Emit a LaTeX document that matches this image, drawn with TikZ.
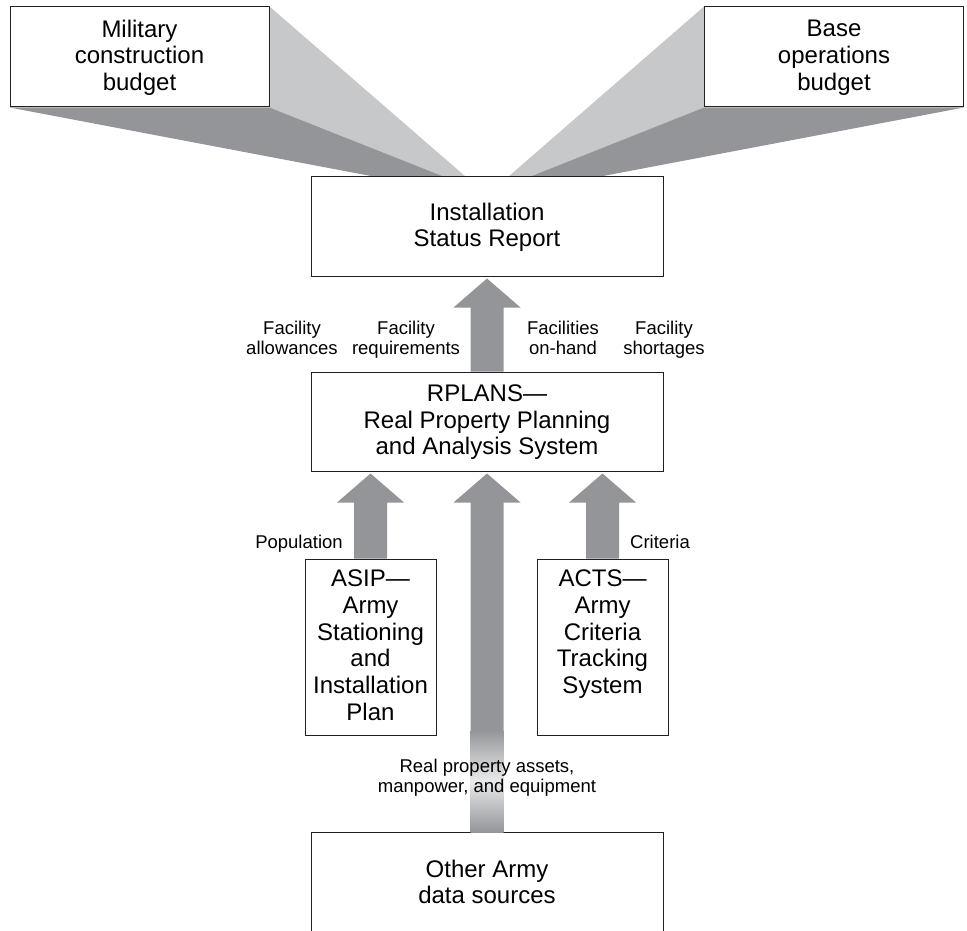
\documentclass[tikz,border=0pt]{standalone}
\usepackage{fontspec}
\setmainfont{Liberation Sans}
\usetikzlibrary{positioning,calc,backgrounds}
\definecolor{darkfill}{HTML}{939598}
\definecolor{lightfill}{HTML}{C7C8CA}
\definecolor{paleshaft}{HTML}{E9EAEB}
\definecolor{inkline}{HTML}{231F20}
% fat block arrow: #1 foot of the shaft, #2 node it points at
\newcommand\fatarrow[2]{%
  \fill[darkfill] ($(#1)+(-16.5,0)$) -- ($(#2)+(-16.5,31)$) -- ($(#2)+(-33.5,31)$)
    -- ($(#2)+(0,2)$) -- ($(#2)+(33.5,31)$) -- ($(#2)+(16.5,31)$) -- ($(#1)+(16.5,0)$) -- cycle;}
\begin{document}
\begin{tikzpicture}[x=1pt, y=-1pt, node distance=95pt,
    box/.style = {draw=inkline, line width=1pt, fill=white, align=center, text depth=3.5pt, font=\fontsize{24}{26.7}\selectfont},
    lbl/.style = {align=center, inner sep=0pt, text depth=3pt, font=\fontsize{18.5}{20}\selectfont}]
    \useasboundingbox (0,0) rectangle (967,931);
    \clip (0,0) rectangle (967,931);
    \node[box, minimum width=259pt, minimum height=100pt] (mil) at (139.5,57) {Military\\construction\\budget};
    \node[box, minimum width=259pt, minimum height=100pt] (base) at (834,57) {Base\\operations\\budget};
    \node[box, minimum width=352pt, minimum height=99pt] (isr) at (487,226.5) {Installation\\Status Report};
    \node[box, minimum width=352pt, minimum height=99pt] (rplans) [below=of isr] {RPLANS---\\Real Property Planning\\and Analysis System};
    \node[box, minimum width=131pt, minimum height=176pt] (asip) at (370.5,647) {ASIP---\\Army\\Stationing\\and\\Installation\\Plan};
    \node[box, minimum width=131pt, minimum height=176pt] (acts) at (602.5,647) {ACTS---\\Army\\Criteria\\Tracking\\System\\~};
    \node[box, minimum width=352pt, minimum height=102pt, anchor=north] (other) at (487,832) {Other Army\\data sources};
    % fans up to the budgets
    \begin{scope}[on background layer]
        \fill[lightfill] (mil.north east) -- ([xshift=-21.5pt]isr.north) -- ([xshift=-43.5pt]isr.north) -- (mil.south east) -- cycle;
        \fill[darkfill] (mil.south west) -- (mil.south east) -- ([xshift=-43.5pt]isr.north) -- ([xshift=-113.5pt]isr.north) -- cycle;
        \fill[lightfill] (base.north west) -- ([xshift=21.5pt]isr.north) -- ([xshift=43.5pt]isr.north) -- (base.south west) -- cycle;
        \fill[darkfill] (base.south east) -- (base.south west) -- ([xshift=43.5pt]isr.north) -- ([xshift=113.5pt]isr.north) -- cycle;
    \end{scope}
    % block arrows
    \coordinate (asiptip) at (asip.north |- rplans.south);
    \coordinate (actstip) at (acts.north |- rplans.south);
    \coordinate (fade) at (other.north |- 0,730);
    \fatarrow{rplans.north}{isr.south}
    \fatarrow{asip.north}{asiptip}
    \fatarrow{acts.north}{actstip}
    \fatarrow{fade}{rplans.south}
    \shade[top color=darkfill, bottom color=darkfill, middle color=paleshaft] ([xshift=-16.5pt]fade) rectangle ([xshift=16.5pt]other.north);
    % labels
    \node[lbl] (allow) at (292,339) {Facility\\allowances};
    \node[lbl] (req) at (406,339) {Facility\\requirements};
    \node[lbl] (onhand) at (563,339) {Facilities\\on-hand};
    \node[lbl] (short) at (664,339) {Facility\\shortages};
    \node[lbl] (pop) at (299,543) {Population};
    \node[lbl] (crit) at (660,543) {Criteria};
    \node[lbl] (assets) at (487,777) {Real property assets,\\manpower, and equipment};
\end{tikzpicture}
\end{document}
